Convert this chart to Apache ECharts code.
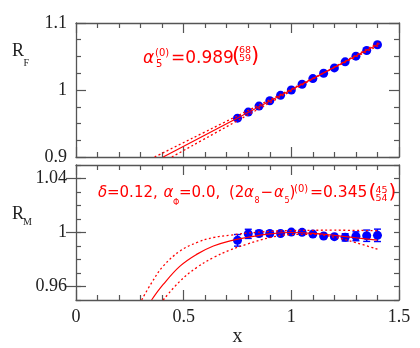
<!DOCTYPE html>
<html>
<head>
<meta charset="utf-8">
<script src="https://cdn.jsdelivr.net/npm/echarts@6/dist/echarts.min.js"></script>
<style>
  html, body { margin: 0; padding: 0; background: #fff; }
  #chart { width: 420px; height: 348px; }
</style>
</head>
<body>
<div id="chart"></div>
<script>
// ---------- data ----------
const xVals = [0.75, 0.80, 0.85, 0.90, 0.95, 1.00, 1.05, 1.10, 1.15, 1.20, 1.25, 1.30, 1.35, 1.40]
const rF = [0.958, 0.967, 0.976, 0.984, 0.992, 1.000, 1.0085, 1.017, 1.025, 1.033, 1.042, 1.0505, 1.059, 1.0676]
const rM = [0.9942, 0.9990, 0.9993, 0.9993, 0.9993, 1.0003, 1.0001, 0.9988, 0.9974, 0.9969, 0.9964, 0.9972, 0.9976, 0.9979]
const rMErr = [0.0043, 0.0034, 0.0022, 0.0018, 0.0012, 0.0008, 0.0008, 0.0010, 0.0012, 0.0015, 0.0027, 0.0033, 0.0042, 0.0046]

// fit curves (x, y) picked along the drawn lines
const fitF = [[0.405, 0.9], [1.41, 1.0695]]
const fitFUp = [[0.365, 0.9], [1.41, 1.067]]
const fitFLo = [[0.445, 0.9], [1.41, 1.0715]]
const fitM = [[0.351, 0.95], [0.405, 0.9615], [0.483, 0.9751], [0.56, 0.9838], [0.638, 0.990], [0.716, 0.9938],
  [0.793, 0.9963], [0.9, 0.9990], [1.0, 1.0], [1.1, 0.9994], [1.2, 0.9979], [1.3, 0.9961], [1.4, 0.9943]]
const fitMUp = [[0.305, 0.95], [0.351, 0.9627], [0.405, 0.9751], [0.483, 0.9863], [0.56, 0.9925], [0.638, 0.9963],
  [0.716, 0.998], [0.793, 0.9995], [0.9, 1.0008], [1.0, 1.0014], [1.2, 1.0017], [1.4, 1.0013]]
const fitMLo = [[0.405, 0.95], [0.483, 0.964], [0.56, 0.974], [0.638, 0.9814], [0.716, 0.987], [0.793, 0.9913],
  [0.9, 0.9962], [1.0, 0.9985], [1.1, 0.9987], [1.2, 0.9966], [1.3, 0.9925], [1.4, 0.9876]]

const rMLabels = [0.96, 1, 1.04]

// ---------- styles ----------
const RED = '#ff0000'
const BLUE = '#0000ff'
const AXIS = '#555'
const SERIF = '"Liberation Serif", "DejaVu Serif", serif'
const SANS = '"DejaVu Sans", sans-serif'

const chart = echarts.init(document.getElementById('chart'), null, { renderer: 'canvas' })

const grids = [
  { left: 76, right: 21, top: 23, height: 134 },
  { left: 76, right: 21, top: 165, height: 135 },
]

function xAxis(grid, pos, labels) {
  return {
    type: 'value', gridIndex: grid, position: pos, min: 0, max: 1.5, interval: 0.5,
    axisLine: { show: true, onZero: false, lineStyle: { color: AXIS, width: 1.3 } },
    axisTick: { show: true, inside: true, length: 10, lineStyle: { color: AXIS, width: 1.2 } },
    minorTick: { show: true, splitNumber: 5, length: 5, lineStyle: { color: AXIS, width: 1.2 } },
    splitLine: { show: false },
    axisLabel: {
      show: labels, margin: 8, color: '#222', fontFamily: SERIF, fontSize: 18,
      showMinLabel: true, showMaxLabel: true,
      formatter: (v) => String(+v.toFixed(2)),
    },
  }
}

function yAxis(grid, pos, labels, extra) {
  return Object.assign({
    type: 'value', gridIndex: grid, position: pos,
    axisLine: { show: true, onZero: false, lineStyle: { color: AXIS, width: 1.3 } },
    splitLine: { show: false },
    axisLabel: { show: labels, margin: 9, color: '#222', fontFamily: SERIF, fontSize: 18 },
  }, extra)
}

const tickStyle = { color: AXIS, width: 1.2 }

const yAxes = [
  // top panel
  yAxis(0, 'left', true, {
    min: 0.9, max: 1.1, interval: 0.1,
    axisTick: { inside: true, length: 10, lineStyle: tickStyle },
    minorTick: { show: true, splitNumber: 4, length: 5, lineStyle: tickStyle },
  }),
  yAxis(0, 'right', false, {
    min: 0.9, max: 1.1, interval: 0.1,
    axisTick: { inside: true, length: 10, lineStyle: tickStyle },
    minorTick: { show: true, splitNumber: 4, length: 5, lineStyle: tickStyle },
  }),
  // bottom panel
  yAxis(1, 'left', true, {
    min: 0.95, max: 1.05, interval: 0.01,
    axisTick: { inside: true, length: 5, lineStyle: tickStyle },
  }),
  yAxis(1, 'right', false, {
    min: 0.95, max: 1.05, interval: 0.01,
    axisTick: { inside: true, length: 5, lineStyle: tickStyle },
  }),
  yAxis(1, 'left', false, {
    min: 0.95, max: 1.05,
    axisLine: { show: false },
    axisTick: { inside: true, length: 10, lineStyle: tickStyle, customValues: rMLabels },
  }),
  yAxis(1, 'right', false, {
    min: 0.95, max: 1.05,
    axisLine: { show: false },
    axisTick: { inside: true, length: 10, lineStyle: tickStyle, customValues: rMLabels },
  }),
]
yAxes[0].axisLabel.formatter = (v) => String(+v.toFixed(2))
yAxes[2].axisLabel.interval = 0
yAxes[2].axisLabel.formatter = (v) => {
  const r = Math.round(v * 100) / 100
  return rMLabels.includes(r) ? String(r) : ''
}

function fitLine(data, xi, yi, dotted) {
  return {
    type: 'line', xAxisIndex: xi, yAxisIndex: yi, data, smooth: 0.4,
    showSymbol: false, silent: true, z: 5,
    lineStyle: { color: RED, width: dotted ? 1.3 : 1.2, type: dotted ? [2, 2.5] : 'solid' },
  }
}

function errorBars(params, api) {
  const x = api.value(0), y = api.value(1), e = api.value(2)
  const hi = api.coord([x, y + e])
  const lo = api.coord([x, y - e])
  const w = 3.5
  const style = { stroke: BLUE, lineWidth: 1.4 }
  return {
    type: 'group',
    children: [
      { type: 'line', shape: { x1: hi[0], y1: hi[1], x2: lo[0], y2: lo[1] }, style },
      { type: 'line', shape: { x1: hi[0] - w, y1: hi[1], x2: hi[0] + w, y2: hi[1] }, style },
      { type: 'line', shape: { x1: lo[0] - w, y1: lo[1], x2: lo[0] + w, y2: lo[1] }, style },
    ],
  }
}

// ---------- annotation text ----------
function txt(x, y, text, size, opts = {}) {
  const font = `${opts.italic ? 'italic ' : ''}${size}px ${opts.family || SANS}`
  return {
    type: 'text', x, y, silent: true,
    style: {
      text, font, fill: opts.color || RED,
      textAlign: opts.align || 'left', textVerticalAlign: 'middle',
      align: opts.align || 'left', verticalAlign: 'middle',
    },
  }
}

const graphic = [
  // axis names
  txt(12, 51, 'R', 18, { family: SERIF, color: '#222' }),
  txt(23.5, 63.5, 'F', 10, { family: SERIF, color: '#222' }),
  txt(12, 214, 'R', 18, { family: SERIF, color: '#222' }),
  txt(23, 222.5, 'M', 10, { family: SERIF, color: '#222' }),
  txt(237.5, 337, 'x', 20, { family: SERIF, color: '#222', align: 'center' }),

  // top annotation
  txt(143, 58.2, 'α', 17, { italic: true }),
  txt(155, 53, '(0)', 10),
  txt(156, 64, '5', 10),
  txt(171, 58.2, '=0.989', 17),
  txt(232, 57, '(', 21),
  txt(239, 50.5, '68', 9.5),
  txt(239, 59, '59', 9.5),
  txt(251, 57, ')', 21),

  // bottom annotation
  txt(98, 192.8, 'δ', 15, { italic: true }),
  txt(107, 192.8, '=0.12,', 15),
  txt(163.5, 192.8, 'α', 15, { italic: true }),
  txt(173, 202.5, 'Φ', 8),
  txt(179, 192.8, '=0.0,', 15),
  txt(229, 192.8, '(2', 15),
  txt(244, 192.8, 'α', 15, { italic: true }),
  txt(254.5, 201, '8', 8),
  txt(260.5, 192.8, '−', 15),
  txt(274, 192.8, 'α', 15, { italic: true }),
  txt(284.5, 201, '5', 8),
  txt(289.5, 192.8, ')', 15),
  txt(294, 189.5, '(0)', 10),
  txt(310, 192.8, '=0.345', 15.5),
  txt(368.5, 193, '(', 20),
  txt(375.5, 190.5, '45', 9.5),
  txt(375.5, 198.5, '54', 9.5),
  txt(388.5, 193, ')', 20),
]

chart.setOption({
  animation: false,
  backgroundColor: '#fff',
  grid: grids,
  xAxis: [xAxis(0, 'bottom', false), xAxis(0, 'top', false), xAxis(1, 'bottom', true), xAxis(1, 'top', false)],
  yAxis: yAxes,
  graphic,
  series: [
    {
      type: 'scatter', xAxisIndex: 0, yAxisIndex: 0, symbolSize: 9, z: 3,
      itemStyle: { color: BLUE, opacity: 1 },
      data: xVals.map((x, i) => [x, rF[i]]),
    },
    fitLine(fitF, 0, 0, false),
    fitLine(fitFUp, 0, 0, true),
    fitLine(fitFLo, 0, 0, true),
    {
      type: 'custom', xAxisIndex: 2, yAxisIndex: 2, z: 2, silent: true,
      renderItem: errorBars,
      data: xVals.map((x, i) => [x, rM[i], rMErr[i]]),
    },
    {
      type: 'scatter', xAxisIndex: 2, yAxisIndex: 2, symbolSize: 9, z: 3,
      itemStyle: { color: BLUE, opacity: 1 },
      data: xVals.map((x, i) => [x, rM[i]]),
    },
    fitLine(fitM, 2, 2, false),
    fitLine(fitMUp, 2, 2, true),
    fitLine(fitMLo, 2, 2, true),
  ],
})
</script>
</body>
</html>
